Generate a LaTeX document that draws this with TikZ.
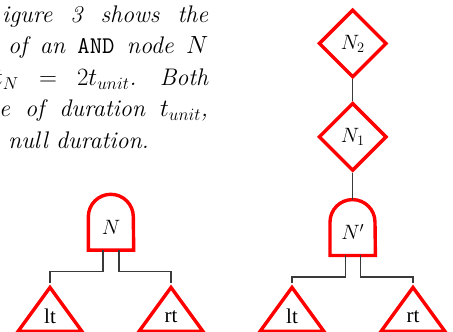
\documentclass[tikz,border=0pt]{standalone}
\usepackage{fontspec}
\usepackage{tikz}
\usetikzlibrary{positioning,shapes.geometric}
\newfontfamily\leaffont{Liberation Serif}
\definecolor{GateRed}{HTML}{FF0000}
\definecolor{Wire}{HTML}{3A3A3A}
\newcommand\fullline[2]{\makebox[#1][s]{\thickmuskip=5mu plus 10mu\relax#2}}

\begin{document}
\begin{tikzpicture}[
  x=1pt,y=1pt,
  para/.style={anchor=base west,inner sep=0pt,font=\fontsize{24}{31}\selectfont\itshape},
  gate/.style={draw=GateRed,line width=3.4pt,line join=miter},
  andnode/.style={minimum width=45pt,minimum height=55.5pt,inner sep=0pt,text height=24.5pt,text depth=0pt,font=\fontsize{22}{26}\selectfont},
  seqnode/.style={diamond,gate,minimum width=68pt,minimum height=68pt,inner sep=0pt,font=\fontsize{22}{26}\selectfont},
  leaf/.style={isosceles triangle,shape border rotate=90,isosceles triangle stretches,gate,minimum width=64pt,minimum height=44pt,inner sep=0pt,font=\leaffont\fontsize{21}{24}\selectfont},
  wire/.style={draw=Wire,line width=1.1pt}
]
  \clip (0,0) rectangle (453,332);
  % paragraph cut off by the figure
  \node[para] (line1) at (2,309) {\fullline{206pt}{igure 3 shows the}};
  \node[para] (line2) at (8,278) {\fullline{200pt}{of an \texttt{\upshape AND} node $N$}};
  \node[para] (line3) at (-6,246) {\fullline{214pt}{$t_N = 2t_{unit}$. Both}};
  \node[para] (line4) at (-1,215) {\fullline{209pt}{e of duration $t_{unit}$,}};
  \node[para] (line5) at (8,183) {null duration.};

  % left: AND node N
  \node[andnode] (N) at (111,109.75) {$N$};
  \draw[gate] (N.south west) -- ([yshift=-22.5pt]N.north west) arc[start angle=180,end angle=0,radius=22.5pt] -- (N.south east) -- cycle;
  \node[leaf,anchor=apex] (lt1) at (50,49) {lt};
  \node[leaf,anchor=apex] (rt1) at (171,49) {rt};
  \draw[wire] ([xshift=-8pt]N.south) -- ++(0,-21.5) -| (lt1.apex);
  \draw[wire] ([xshift=8pt]N.south) -- ++(0,-21.5) -| (rt1.apex);

  % right: N2 over N1 over N'
  \node[seqnode] (N2) at (352.7,288.5) {$N_2$};
  \node[seqnode,below=22pt of N2] (N1) {$N_1$};
  \node[andnode,below=27pt of N1] (Np) {$N'$};
  \draw[gate] (Np.south west) -- ([yshift=-22.5pt]Np.north west) arc[start angle=180,end angle=0,radius=22.5pt] -- (Np.south east) -- cycle;
  \node[leaf,anchor=apex] (lt2) at (292,49) {lt};
  \node[leaf,anchor=apex] (rt2) at (413,49) {rt};
  \draw[wire] (N2.south) -- (N1.north);
  \draw[wire] (N1.south) -- (Np.north);
  \draw[wire] ([xshift=-7.5pt]Np.south) -- ++(0,-21.5) -| (lt2.apex);
  \draw[wire] ([xshift=7.5pt]Np.south) -- ++(0,-21.5) -| (rt2.apex);
\end{tikzpicture}
\end{document}
